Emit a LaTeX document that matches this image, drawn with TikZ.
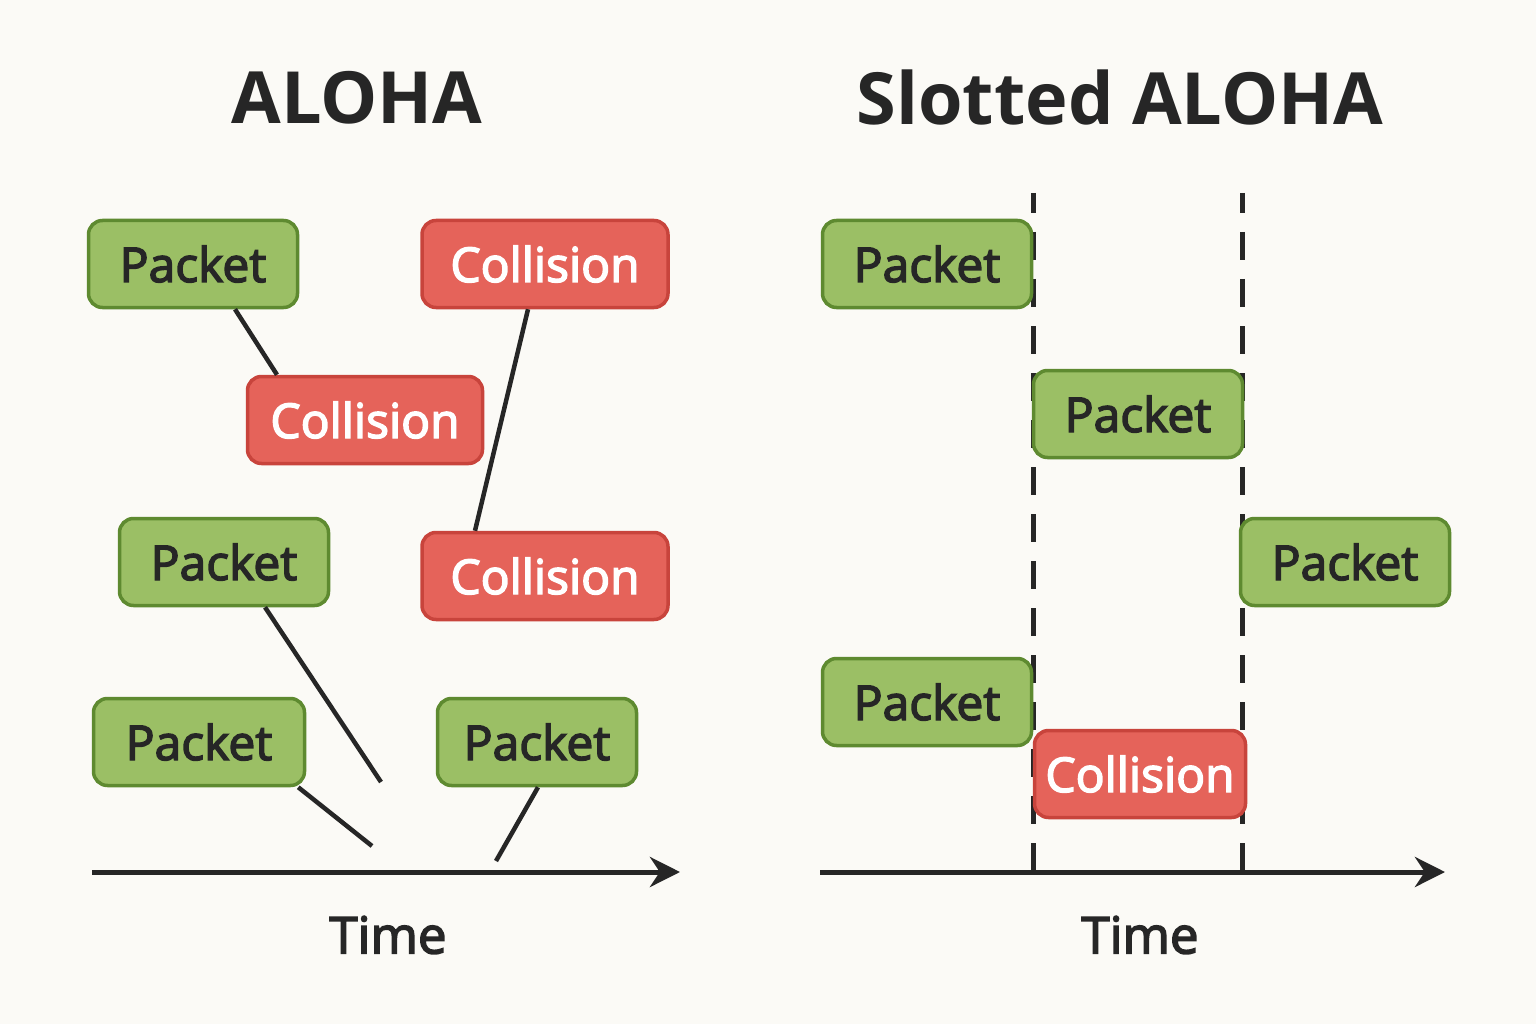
\documentclass[tikz,border=0pt]{standalone}
\usepackage{fontspec}
\setmainfont{Open Sans}
\newfontfamily\boxfont[FakeBold=3]{Open Sans}
\usetikzlibrary{arrows.meta}
\definecolor{bg}{HTML}{FBFAF6}
\definecolor{pktfill}{HTML}{9BBF65}
\definecolor{pktline}{HTML}{5E8A30}
\definecolor{colfill}{HTML}{E5635A}
\definecolor{colline}{HTML}{C8443C}
\definecolor{ink}{HTML}{262626}
\tikzstyle{packet} = [rectangle, rounded corners=14pt, text centered, draw=pktline, fill=pktfill, line width=3.5pt, minimum width=209pt, minimum height=87pt, text=ink, font=\boxfont\fontsize{48}{58}\selectfont]
\tikzstyle{collision} = [packet, draw=colline, fill=colfill, text=white]
\tikzstyle{link} = [draw=ink, line width=4.5pt]
\tikzstyle{arrow} = [draw=ink, line width=5pt, -{Stealth[length=30pt,width=30pt]}]
\tikzstyle{slot} = [draw=ink, line width=5pt, dash pattern=on 28pt off 19pt, dash phase=8pt]
\tikzstyle{title} = [text=ink, font=\fontsize{72}{84}\selectfont\bfseries]
\tikzstyle{timelabel} = [text=ink, font=\boxfont\fontsize{51}{60}\selectfont]
\begin{document}
\begin{tikzpicture}[x=1pt, y=-1pt]
\fill[bg] (0,0) rectangle (1536,1024);
\useasboundingbox (0,0) rectangle (1536,1024);

% pure ALOHA
\node (aloha) [title] at (357,98) {ALOHA};
\node (p1) [packet] at (193,264) {Packet};
\node (c1) [collision, minimum width=235pt] at (365,420) {Collision};
\node (c2) [collision, minimum width=246pt] at (545,264) {Collision};
\node (p2) [packet] at (224,562) {Packet};
\node (c3) [collision, minimum width=246pt] at (545,576) {Collision};
\node (p3) [packet, minimum width=211pt] at (199,742) {Packet};
\node (p4) [packet, minimum width=199pt] at (537,742) {Packet};
\coordinate (e2) at (381,782);
\coordinate (e3) at (372,846);
\coordinate (e4) at (496,861);

\draw [link] ([xshift=42pt]p1.south) -- ([xshift=-88pt]c1.north);
\draw [link] ([xshift=-17pt]c2.south) -- ([xshift=-70pt]c3.north);
\draw [link] ([xshift=41pt]p2.south) -- (e2);
\draw [link] ([xshift=-8pt]p3.south east) -- (e3);
\draw [link] ([xshift=1pt]p4.south) -- (e4);

\coordinate (t0) at (92,872);
\coordinate (t1) at (680,872);
\draw [arrow] (t0) -- (t1);
\node (time1) [timelabel] at (388,935) {Time};

% slotted ALOHA
\node (slotted) [title] at (1120,98) {Slotted ALOHA};
\coordinate (s1) at (1033,193);
\coordinate (s2) at (1242,193);
\draw [slot] (s1) -- (s1 |- 0,872);
\draw [slot] (s2) -- (s2 |- 0,872);
\node (sp1) [packet] at (927,264) {Packet};
\node (sp2) [packet] at (1138,414) {Packet};
\node (sp3) [packet] at (1345,562) {Packet};
\node (sp4) [packet] at (927,702) {Packet};
\node (sc) [collision, minimum width=211pt] at (1140,774) {Collision};

\coordinate (u0) at (820,872);
\coordinate (u1) at (1445,872);
\draw [arrow] (u0) -- (u1);
\node (time2) [timelabel] at (1140,935) {Time};

\end{tikzpicture}
\end{document}
